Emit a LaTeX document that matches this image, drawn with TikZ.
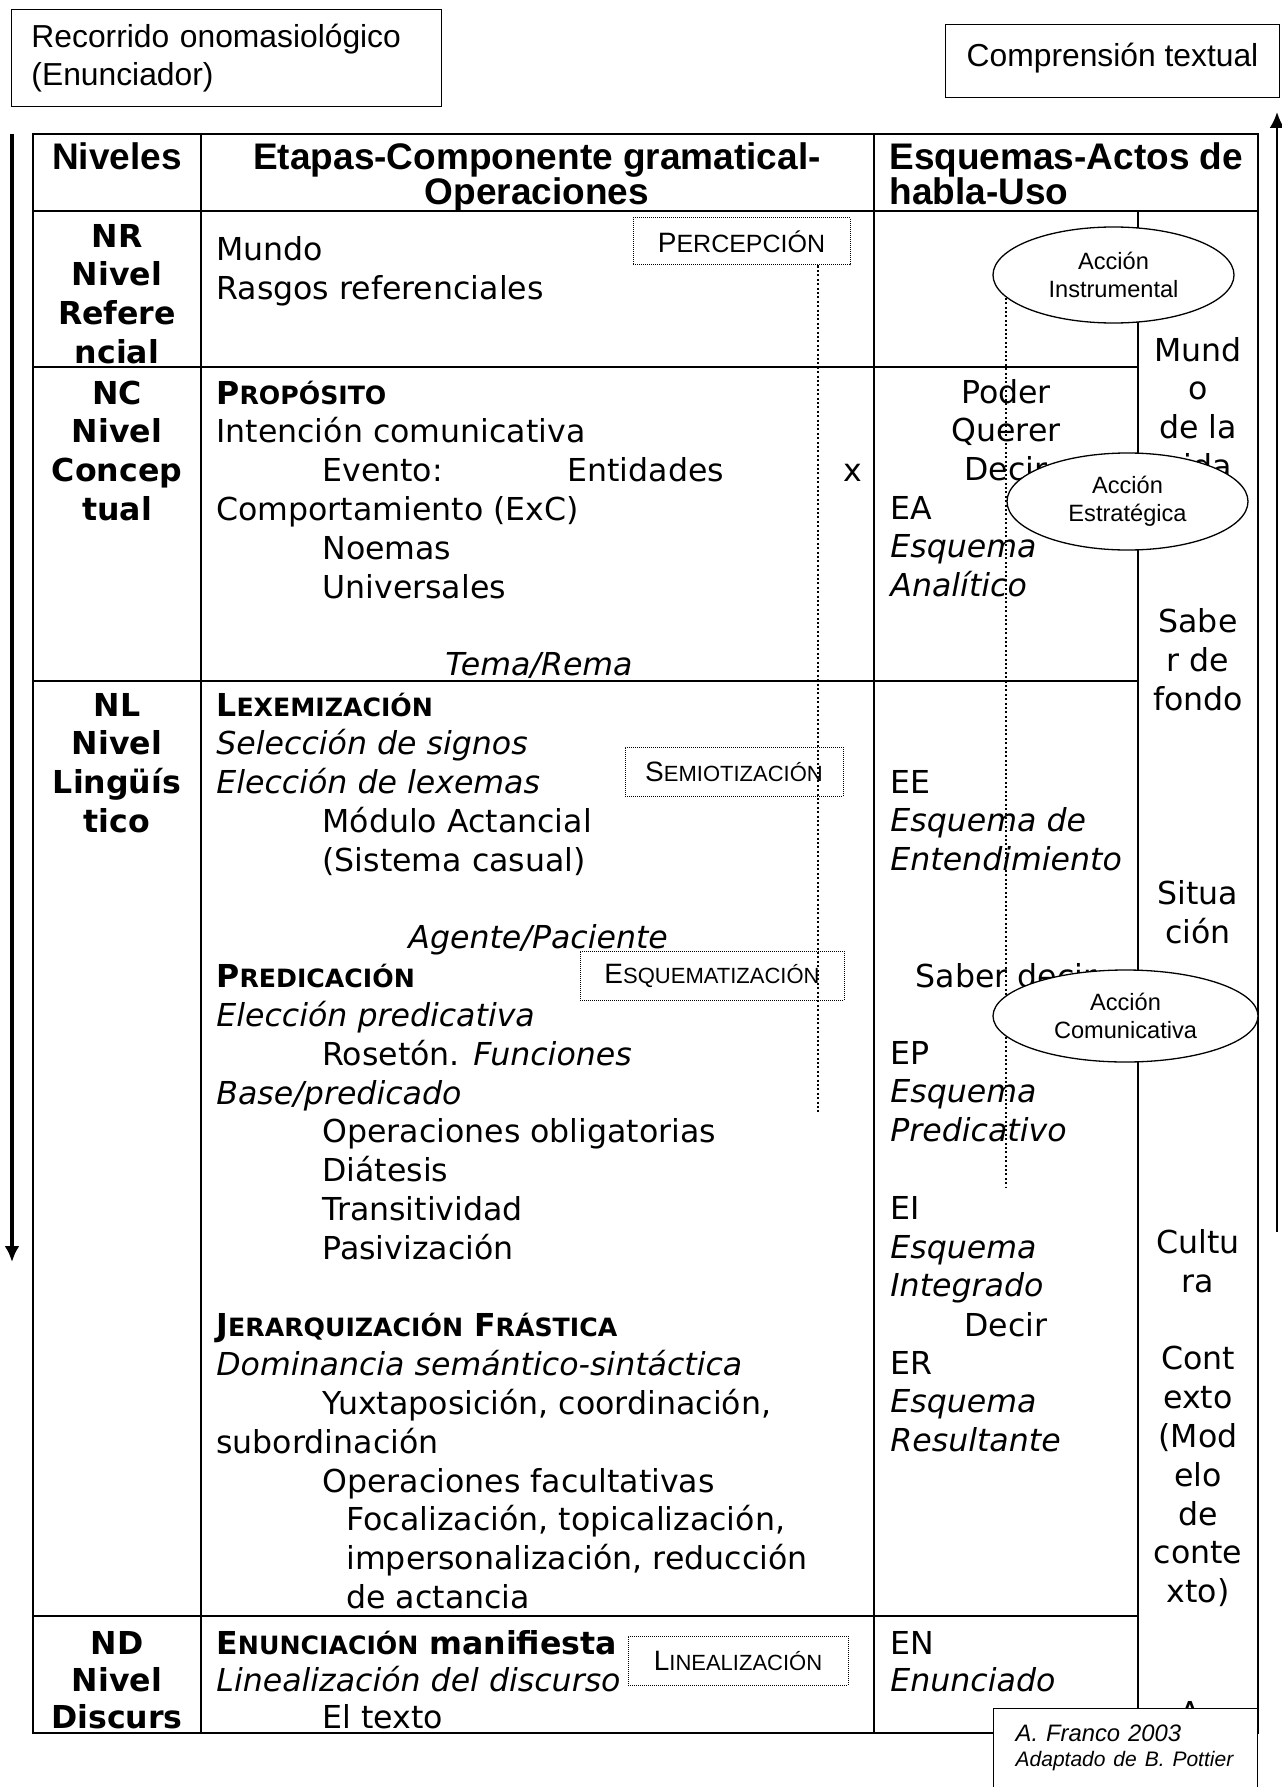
\documentclass[tikz,border=0pt]{standalone}
\usepackage{fontspec}
\setmainfont{DejaVu Sans}
\newfontfamily\arial{Liberation Sans}
\usepackage{tikz}
\usetikzlibrary{shapes.geometric}
\usetikzlibrary{arrows.meta}
\lineskiplimit=-100pt
\newcommand{\versal}[1]{{\fontsize{12.6pt}{19.4pt}\selectfont #1}}
\newcommand{\rotulo}[3][11pt]{{\fontsize{14pt}{16pt}\selectfont #2}{\fontsize{#1}{16pt}\selectfont #3}}
\tikzstyle{flecha} = [line width=1.6pt,-{Latex[length=8pt,width=7.5pt]}]
\tikzstyle{guia} = [line width=1pt,dash pattern=on 1pt off 1.2pt]

\begin{document}
\begin{tikzpicture}[x=0.5pt, y=-0.5pt, font=\fontsize{15.8pt}{19.4pt}\selectfont,
	tabla/.style={line width=1.3pt},
	nivel/.style={anchor=base, align=center, inner sep=0pt, font=\fontsize{15.8pt}{19.4pt}\selectfont\bfseries},
	celda/.style={anchor=base west, align=left, inner sep=0pt},
	centrada/.style={anchor=base, align=center, inner sep=0pt},
	cabecera/.style={anchor=base, align=center, inner sep=0pt, font=\arial\bfseries\fontsize{18.5pt}{17.5pt}\selectfont},
	etapa/.style={draw, line width=0.5pt, dash pattern=on 0.5pt off 0.5pt, inner sep=0pt, font=\arial},
	accion/.style={ellipse, draw, fill=white, line width=0.65pt, inner sep=0pt, align=center, font=\arial\fontsize{11.8pt}{13.8pt}\selectfont},
	cuadro/.style={draw, line width=0.5pt, font=\arial\fontsize{15.9pt}{19pt}\selectfont}]
	
	\useasboundingbox (0,0) rectangle (1281,1787);
	
	% TABLA
	
	\draw[tabla] (33,134) rectangle (1258,1733);
	\draw[tabla] (201,134) -- (201,1733) (874,134) -- (874,1733) (1138,211) -- (1138,1733);
	\draw[tabla] (33,211) -- (1258,211) (33,367) -- (1138,367) (33,681) -- (1138,681) (33,1616) -- (1138,1616);
	
	% CABECERA (base = last line)
	
	\node[cabecera] (h-niveles) at (117,170) {Niveles};
	\node[cabecera] (h-etapas) at (537,205) {Etapas-Componente gramatical-\\Operaciones};
	\node[cabecera, anchor=base west, align=left] (h-esquemas) at (889,205) {Esquemas-Actos de\\habla-Uso};
	
	% NIVELES
	
	\node[nivel] (nr) at (117,363.4) {NR\\Nivel\\Refere\\ncial};
	\node[nivel] (nc) at (117,520.4) {NC\\Nivel\\Concep\\tual};
	\node[nivel] (nl) at (117,832.4) {NL\\Nivel\\Lingüís\\tico};
	\node[nivel, font=\fontsize{15.8pt}{18.5pt}\selectfont\bfseries] (nd) at (117,1728) {ND\\Nivel\\Discurs};
	
	% ETAPAS
	
	\node[celda] (nr-etapa) at (216,299.8) {Mundo\\Rasgos referenciales};
	\node[celda] (nc-etapa) at (216,675.6) {%
		\textbf{P\versal{ROPÓSITO}}\\
		Intención comunicativa\\
		\hspace*{53pt}Evento:\\
		Comportamiento (ExC)\\
		\hspace*{53pt}Noemas\\
		\hspace*{53pt}Universales\\
		~\\
		\hspace*{114.5pt}\textit{Tema/Rema}};
	\node[celda] (nc-entidades) at (567,481) {Entidades};
	\node[celda] (nc-x) at (843,481) {x};
	\node[celda] (nl-etapa) at (216,1608.4) {%
		\textbf{L\versal{EXEMIZACIÓN}}\\
		\textit{Selección de signos}\\
		\textit{Elección de lexemas}\\
		\hspace*{53pt}Módulo Actancial\\
		\hspace*{53pt}(Sistema casual)\\
		~\\
		\hspace*{96pt}\textit{Agente/Paciente}\\
		\textbf{P\versal{REDICACIÓN}}\\
		\textit{Elección predicativa}\\
		\hspace*{53pt}Rosetón. \textit{Funciones}\\
		\textit{Base/predicado}\\
		\hspace*{53pt}Operaciones obligatorias\\
		\hspace*{53pt}Diátesis\\
		\hspace*{53pt}Transitividad\\
		\hspace*{53pt}Pasivización\\
		~\\
		\textbf{J\versal{ERARQUIZACIÓN} F\versal{RÁSTICA}}\\
		\textit{Dominancia semántico-sintáctica}\\
		\hspace*{53pt}Yuxtaposición, coordinación,\\
		subordinación\\
		\hspace*{53pt}Operaciones facultativas\\
		\hspace*{65pt}Focalización, topicalización,\\
		\hspace*{65pt}impersonalización, reducción\\
		\hspace*{65pt}de actancia};
	\node[celda, font=\fontsize{15.8pt}{18.5pt}\selectfont] (nd-etapa) at (216,1728) {%
		\textbf{E\versal{NUNCIACIÓN} manifiesta}\\
		\textit{Linealización del discurso}\\
		\hspace*{53pt}El texto};
	
	% ESQUEMAS
	
	\node[centrada] (poder) at (1006,480.6) {Poder\\Querer\\Decir};
	\node[celda] (ea) at (890,596.6) {EA\\\textit{Esquema}\\\textit{Analítico}};
	\node[celda] (ee) at (890,870.6) {EE\\\textit{Esquema de}\\\textit{Entendimiento}};
	\node[centrada] (saber) at (1006,987) {Saber decir};
	\node[celda] (ep) at (890,1296.8) {EP\\\textit{Esquema}\\\textit{Predicativo}\\~\\EI\\\textit{Esquema}\\\textit{Integrado}};
	\node[centrada] (decir) at (1006,1336) {Decir};
	\node[celda] (er) at (890,1451.6) {ER\\\textit{Esquema}\\\textit{Resultante}};
	\node[celda, font=\fontsize{15.8pt}{18.5pt}\selectfont] (en) at (890,1691) {EN\\\textit{Enunciado}};
	
	% MUNDO DE LA VIDA
	
	\node[centrada] (col4) at (1198,1602.6) {Mund\\o\\de la\\vida\\~\\~\\~\\Sabe\\r de\\fondo\\~\\~\\~\\~\\Situa\\ción\\~\\~\\~\\~\\~\\~\\~\\Cultu\\ra\\~\\Cont\\exto\\(Mod\\elo\\de\\conte\\xto)};
	\node[centrada] (col4-a) at (1190,1724) {A};
	
	% OPERACIONES
	
	\node[etapa, minimum width=108.5pt, minimum height=23.5pt] (percepcion) at (741.5,241.5) {\rotulo[12.5pt]{P}{ERCEPCIÓN}};
	\node[etapa, minimum width=109pt, minimum height=24.5pt] (semiotizacion) at (734,771.5) {\rotulo{S}{EMIOTIZACIÓN}};
	\node[etapa, minimum width=132pt, minimum height=24.5pt] (esquematizacion) at (712,975.5) {\rotulo{E}{SQUEMATIZACIÓN}};
	\node[etapa, minimum width=110pt, minimum height=24.5pt] (linealizacion) at (738,1660.5) {\rotulo{L}{INEALIZACIÓN}};
	\coordinate (p-fin) at (818,1112);
	\draw[guia] (percepcion.south -| p-fin) -- (p-fin);
	
	% ACCIONES
	
	\node[accion, minimum width=120.5pt, minimum height=48pt] (instrumental) at (1113.5,275) {Acción\\Instrumental};
	\coordinate (i-fin) at (1008,1187);
	\draw[guia] (instrumental.192) -- (instrumental.192 |- i-fin);
	\node[accion, minimum width=120.5pt, minimum height=48.5pt] (estrategica) at (1127.5,501.5) {Acción\\Estratégica};
	\node[accion, minimum width=132.5pt, minimum height=46pt] (comunicativa) at (1125.5,1016) {Acción\\Comunicativa};
	
	\node[draw, fill=white, line width=0.65pt, anchor=north west, inner xsep=11pt, inner ysep=8pt, text width=110pt, align=left, font=\arial\itshape\fontsize{11.9pt}{12.5pt}\selectfont] (firma) at (993,1708) {A. Franco 2003\\{\fontsize{10.5pt}{12.5pt}\selectfont Adaptado de B. Pottier}\rule[-40pt]{0pt}{0pt}};
	
	% RECORRIDOS
	
	\node[cuadro, anchor=north west, text width=195pt, inner xsep=10pt, minimum height=48.5pt, align=left] (recorrido) at (11,9) {Recorrido onomasiológico\\(Enunciador)};
	\node[cuadro, anchor=north west, minimum width=167pt, minimum height=36.5pt, text depth=6pt, inner sep=0pt] (comprension) at (945,24) {Comprensión textual};
	
	\coordinate (baja-ini) at (12,134);
	\coordinate (baja-fin) at (12,1262);
	\draw[flecha] (baja-ini) -- (baja-fin);
	\coordinate (sube-ini) at (1277,1232);
	\coordinate (sube-fin) at (1277,112);
	\draw[flecha, line width=1.3pt] (sube-ini) -- (sube-fin);
	
\end{tikzpicture}
\end{document}
